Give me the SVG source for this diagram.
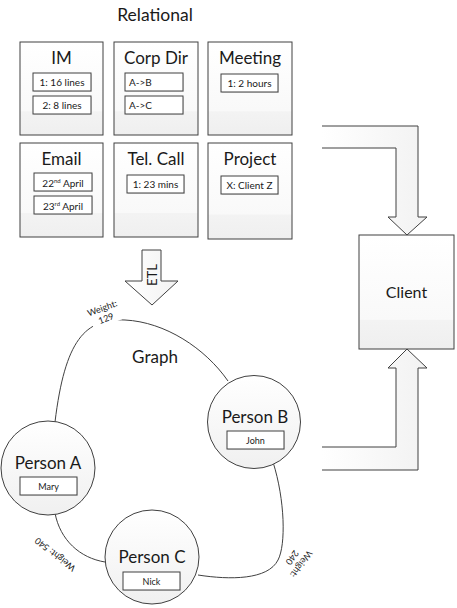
<svg xmlns="http://www.w3.org/2000/svg" width="457" height="608" viewBox="0 0 457 608">
<defs>
<linearGradient id="boxg" x1="0" y1="0" x2="0" y2="1">
<stop offset="0" stop-color="#ffffff"/>
<stop offset="0.74" stop-color="#f9f9f9"/>
<stop offset="0.75" stop-color="#f3f3f3"/>
<stop offset="1" stop-color="#efefef"/>
</linearGradient>
<linearGradient id="circg" x1="0" y1="0" x2="0" y2="1">
<stop offset="0" stop-color="#ffffff"/>
<stop offset="1" stop-color="#f0f0f0"/>
</linearGradient>
<linearGradient id="arrg" x1="0" y1="0" x2="1" y2="0">
<stop offset="0" stop-color="#ffffff"/>
<stop offset="1" stop-color="#f2f2f2"/>
</linearGradient>
<style>
.t{font-family:Lato,"Liberation Sans",Arial,sans-serif;fill:#1a1a1a;text-anchor:middle}
.title{font-size:17px}
.small{font-size:10px}
.tiny{font-size:9px}
.box{fill:url(#boxg);stroke:#404040;stroke-width:1}
.sh{fill:#e0e0e0}
.inner{fill:#ffffff;stroke:#404040;stroke-width:1}
.circ{fill:url(#circg);stroke:#404040;stroke-width:1}
.edge{fill:none;stroke:#404040;stroke-width:1}
.arr{fill:url(#arrg);stroke:none}
.arrl{fill:none;stroke:#404040;stroke-width:1}
</style>
</defs>
<rect width="457" height="608" fill="#ffffff"/>
<text class="t" x="155" y="21" font-size="17.5">Relational</text>

<g id="im">
<rect class="box" x="20" y="42" width="83" height="93"/>
<text class="t title" x="61.5" y="64">IM</text>
<rect class="sh" x="34" y="74" width="58" height="18"/>
<rect class="inner" x="33" y="73" width="58" height="18"/>
<text class="t small" x="62" y="86">1: 16 lines</text>
<rect class="sh" x="34" y="97" width="58" height="18"/>
<rect class="inner" x="33" y="96" width="58" height="18"/>
<text class="t small" x="62" y="109">2: 8 lines</text>
</g>

<g id="corpdir">
<rect class="box" x="114" y="42" width="84" height="93"/>
<text class="t title" x="156" y="64">Corp Dir</text>
<rect class="sh" x="126" y="74" width="58" height="18"/>
<rect class="inner" x="125" y="73" width="58" height="18"/>
<text class="t small" x="129" y="86" style="text-anchor:start">A-&gt;B</text>
<rect class="sh" x="126" y="97" width="58" height="18"/>
<rect class="inner" x="125" y="96" width="58" height="18"/>
<text class="t small" x="129" y="109" style="text-anchor:start">A-&gt;C</text>
</g>

<g id="meeting">
<rect class="box" x="208" y="42" width="84" height="93"/>
<text class="t title" x="250" y="64">Meeting</text>
<rect class="sh" x="222" y="75" width="57" height="18"/>
<rect class="inner" x="221" y="74" width="57" height="18"/>
<text class="t small" x="249.5" y="87">1: 2 hours</text>
</g>

<g id="email">
<rect class="box" x="20" y="143" width="83" height="94"/>
<text class="t title" x="61.5" y="165">Email</text>
<rect class="sh" x="35" y="174" width="58" height="18"/>
<rect class="inner" x="34" y="173" width="58" height="18"/>
<text class="t small" x="63" y="187">22<tspan font-size="6" dy="-4">nd</tspan><tspan dy="4"> April</tspan></text>
<rect class="sh" x="35" y="197" width="58" height="18"/>
<rect class="inner" x="34" y="196" width="58" height="18"/>
<text class="t small" x="63" y="210">23<tspan font-size="6" dy="-4">rd</tspan><tspan dy="4"> April</tspan></text>
</g>

<g id="telcall">
<rect class="box" x="114" y="143" width="84" height="94"/>
<text class="t title" x="156" y="165">Tel. Call</text>
<rect class="sh" x="128" y="176" width="57" height="18"/>
<rect class="inner" x="127" y="175" width="57" height="18"/>
<text class="t small" x="155.5" y="188">1: 23 mins</text>
</g>

<g id="project">
<rect class="box" x="208" y="143" width="84" height="96"/>
<text class="t title" x="250" y="165">Project</text>
<rect class="sh" x="222" y="177" width="57" height="18"/>
<rect class="inner" x="221" y="176" width="57" height="18"/>
<text class="t small" x="249.5" y="189">X: Client Z</text>
</g>

<g id="client">
<rect class="box" x="359" y="235" width="95" height="114"/>
<text class="t" x="406.5" y="298" font-size="16">Client</text>
</g>

<text class="t title" x="155" y="363">Graph</text>

<g id="connectors">
<path class="arr" d="M142,250 H161 V281 H178 L152,305 L125,281 H142 Z" style="stroke:#404040;stroke-width:1"/>
<text class="t" x="0" y="0" font-size="13" transform="translate(156.5,275) rotate(-90)">ETL</text>
<path class="arr" d="M322,126 H418 V217 H427 L407,235 L388,217 H396 V148 H322 Z"/>
<path class="arrl" d="M322,126 H418 V217 H427 L407,235 L388,217 H396 V148 H322"/>
<path class="arr" d="M322,447 H396 V368 H388 L407,349 L427,368 H418 V470 H322 Z"/>
<path class="arrl" d="M322,447 H396 V368 H388 L407,349 L427,368 H418 V470 H322"/>
<path class="edge" d="M55,422 C65,340 85,318 125,320 C165,322 205,348 228,381"/>
<path class="edge" d="M55,513 C60,540 80,558 105,562"/>
<path class="edge" d="M273,462 C285,500 286,545 278,560 C268,580 230,580 198,575"/>
<g transform="translate(104,313) rotate(-20)">
<rect x="-15" y="1" width="30" height="11" fill="#ffffff"/>
<text class="t tiny"><tspan x="0" y="-2">Weight:</tspan><tspan x="0" y="9">129</tspan></text>
</g>
<text class="t tiny" transform="translate(57,552) rotate(218)" x="0" y="0">Weight: 540</text>
<text class="t tiny" transform="translate(297,561) rotate(126)"><tspan x="0" y="-2">Weight:</tspan><tspan x="0" y="9">240</tspan></text>
</g>

<g id="persona">
<circle class="circ" cx="48" cy="468" r="47"/>
<text class="t title" x="48" y="469">Person A</text>
<rect class="sh" x="21" y="478" width="57" height="18"/>
<rect class="inner" x="20" y="477" width="57" height="18"/>
<text class="t tiny" x="48.5" y="489.5">Mary</text>
</g>

<g id="personb">
<circle class="circ" cx="254" cy="422" r="46.5"/>
<text class="t title" x="255" y="423">Person B</text>
<rect class="sh" x="228" y="432" width="57" height="18"/>
<rect class="inner" x="227" y="431" width="57" height="18"/>
<text class="t tiny" x="255.5" y="443.5">John</text>
</g>

<g id="personc">
<circle class="circ" cx="152" cy="557" r="47"/>
<text class="t title" x="152" y="563">Person C</text>
<rect class="sh" x="124" y="573" width="57" height="18"/>
<rect class="inner" x="123" y="572" width="57" height="18"/>
<text class="t tiny" x="151.5" y="584.5">Nick</text>
</g>
</svg>
